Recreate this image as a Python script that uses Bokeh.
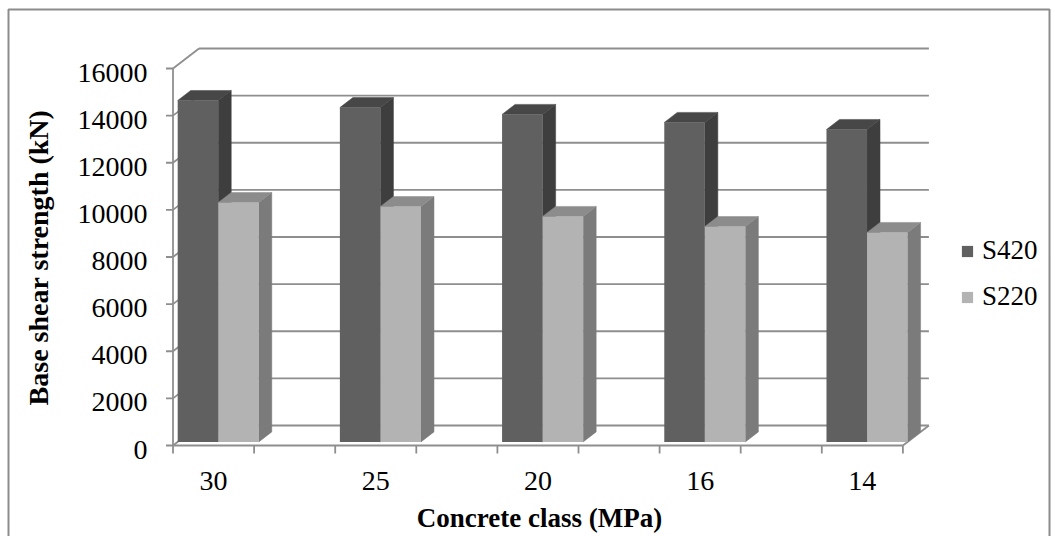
import math
from bokeh.plotting import figure
from bokeh.models import Range1d, ColumnDataSource, Legend, LegendItem
from bokeh.core.properties import value
from bokeh.embed import file_html
from bokeh.resources import INLINE

# ---- data -------------------------------------------------------------
categories = ["30", "25", "20", "16", "14"]
s420 = [14490, 14190, 13900, 13560, 13260]
s220 = [10160, 9990, 9570, 9140, 8890]
series_names = ["S420", "S220"]
y_ticks = [0, 2000, 4000, 6000, 8000, 10000, 12000, 14000, 16000]
y_tick_labels = [str(t) for t in y_ticks]
x_title = "Concrete class (MPa)"
y_title = "Base shear strength (kN)"

# ---- layout constants (pixels on the 1055 x 536 canvas) ---------------
W, H = 1055, 536
X0_PX = 172.5           # front-left corner of the floor
SLOT_PX = 81.1          # width of one tick slot on the front edge
Y0_PX = 445.0           # zero line on the front plane
VAL_PX = 377.0 / 16000  # pixels per unit of value
DEPTH_PX = (26.0, 20.0)  # oblique offset of the back wall (right, up)

def px_x(px):
    return (px - X0_PX) / SLOT_PX

def px_y(py):
    return (Y0_PX - py) / VAL_PX

DX = DEPTH_PX[0] / SLOT_PX
DY = DEPTH_PX[1] / VAL_PX
N_SLOTS = 2 * len(categories) - 1
FRONT_D, BACK_D = 0.18, 0.68   # depth fractions of the bar faces
BAR_W = 0.5

GRID = "#8e8e8e"
FONT = value("Liberation Serif")

p = figure(width=W, height=H, title=None,
           x_range=Range1d(px_x(0), px_x(W)), y_range=Range1d(px_y(H), px_y(0)),
           x_axis_location=None, y_axis_location=None,
           toolbar_location=None, output_backend="svg", min_border=0)
p.grid.visible = False
p.outline_line_color = None
p.background_fill_color = "white"
p.border_fill_color = "white"

# chart border
p.quad(left=[px_x(8)], right=[px_x(1049)], top=[px_y(9)], bottom=[px_y(H + 20)],
       fill_color=None, line_color="#8c8c8c", line_width=2)

# back wall and side wall gridlines
p.segment(x0=[DX] * len(y_ticks), y0=[t + DY for t in y_ticks],
          x1=[N_SLOTS + DX] * len(y_ticks), y1=[t + DY for t in y_ticks],
          line_color=GRID, line_width=1.8)
p.segment(x0=[0] * len(y_ticks), y0=y_ticks,
          x1=[DX] * len(y_ticks), y1=[t + DY for t in y_ticks],
          line_color=GRID, line_width=1.8)

# floor edges
p.segment(x0=[0, N_SLOTS], y0=[0, 0], x1=[N_SLOTS, N_SLOTS + DX], y1=[0, DY],
          line_color=GRID, line_width=1.8)

# value axis line and ticks
p.segment(x0=[0], y0=[0], x1=[0], y1=[y_ticks[-1]], line_color=GRID, line_width=1.8)
p.segment(x0=[-7 / SLOT_PX] * len(y_ticks), y0=y_ticks, x1=[0] * len(y_ticks), y1=y_ticks,
          line_color=GRID, line_width=1.8)
p.text(x=[px_x(147)] * len(y_ticks), y=[t - 4 / VAL_PX for t in y_ticks], text=y_tick_labels,
       text_font=FONT, text_font_size=value("28px"), text_color="black",
       text_align="right", text_baseline="middle")

# category axis ticks and labels
slot_ticks = list(range(N_SLOTS + 1))
p.segment(x0=slot_ticks, y0=[0] * len(slot_ticks), x1=slot_ticks,
          y1=[-8 / VAL_PX] * len(slot_ticks), line_color=GRID, line_width=1.8)
p.text(x=[2 * i + 0.5 for i in range(len(categories))], y=[px_y(480)] * len(categories),
       text=categories, text_font=FONT, text_font_size=value("28px"), text_color="black",
       text_align="center", text_baseline="middle")

# axis titles
p.text(x=[px_x(539)], y=[px_y(517)], text=[x_title], text_font=FONT,
       text_font_size=value("27px"), text_font_style="bold", text_color="black",
       text_align="center", text_baseline="middle")
p.text(x=[px_x(38)], y=[px_y(257)], text=[y_title], text_font=FONT,
       text_font_size=value("28px"), text_font_style="bold", text_color="black",
       text_align="center", text_baseline="middle", angle=math.pi / 2)

# ---- 3-D columns ------------------------------------------------------
fdx, fdy = FRONT_D * DX, FRONT_D * DY
bdx, bdy = (BACK_D - FRONT_D) * DX, (BACK_D - FRONT_D) * DY

def column_faces(vals, k):
    left = [2 * i + fdx + k * BAR_W for i in range(len(vals))]
    right = [l + BAR_W for l in left]
    bottom = [fdy] * len(vals)
    top = [v + fdy for v in vals]
    front = ColumnDataSource(dict(left=left, right=right, bottom=bottom, top=top))
    tops = ColumnDataSource(dict(
        xs=[[l, r, r + bdx, l + bdx] for l, r in zip(left, right)],
        ys=[[t, t, t + bdy, t + bdy] for t in top]))
    sides = ColumnDataSource(dict(
        xs=[[r, r + bdx, r + bdx, r] for r in right],
        ys=[[b, b + bdy, t + bdy, t] for b, t in zip(bottom, top)]))
    return front, tops, sides

styles = [("#606060", "#474747", "#3e3e3e"), ("#b3b3b3", "#8c8c8c", "#7b7b7b")]
legend_items = []
for k, vals in enumerate([s420, s220]):
    front, tops, sides = column_faces(vals, k)
    c_front, c_top, c_side = styles[k]
    p.patches("xs", "ys", source=sides, fill_color=c_side, line_color=c_side, line_width=0.5)
    p.patches("xs", "ys", source=tops, fill_color=c_top, line_color=c_top, line_width=0.5)
    r = p.quad(left="left", right="right", bottom="bottom", top="top", source=front,
               fill_color=c_front, line_color=None)
    legend_items.append(LegendItem(label=series_names[k], renderers=[r]))

legend = Legend(items=legend_items, location=(960, 224), orientation="vertical",
                border_line_color=None, background_fill_alpha=0, padding=0, margin=0,
                glyph_width=14, glyph_height=14, label_standoff=8, spacing=15,
                label_height=30, label_text_font="Liberation Serif",
                label_text_font_size="27px", label_text_color="black")
p.add_layout(legend)

open("out.html", "w").write(file_html(p, INLINE))
